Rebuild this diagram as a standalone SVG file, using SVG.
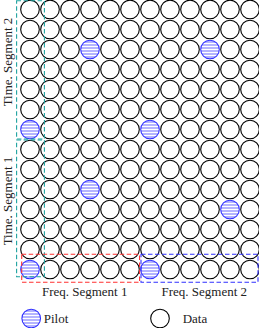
<svg xmlns="http://www.w3.org/2000/svg" xmlns:xlink="http://www.w3.org/1999/xlink" width="259" height="328" viewBox="0 0 259 328">
<style>
.d{fill:none;stroke:#000;stroke-width:1.1}
.p{fill:url(#hl);stroke:#3030ff;stroke-width:1.1}
.t{font-family:"Liberation Serif","Times New Roman",serif;font-size:13px;fill:#222}
.box{fill:none;stroke-width:1.1;stroke-dasharray:4.5 2.5}
</style>
<defs>
<pattern id="hl" patternUnits="userSpaceOnUse" x="0" y="0.5" width="4" height="3">
<rect width="4" height="3" fill="#fff"/>
<line x1="0" y1="1" x2="4" y2="1" stroke="#6a6aff" stroke-width="1"/>
</pattern>
<circle id="dc" class="d" r="9.3"/>
<circle id="pc" class="p" r="9.3"/>
</defs>
<rect width="259" height="328" fill="#fff"/>
<g id="grid">
<g id="r0"><use xlink:href="#dc" x="30" y="9.5"/><use xlink:href="#dc" x="50" y="9.5"/><use xlink:href="#dc" x="70" y="9.5"/><use xlink:href="#dc" x="90" y="9.5"/><use xlink:href="#dc" x="110" y="9.5"/><use xlink:href="#dc" x="130" y="9.5"/><use xlink:href="#dc" x="150" y="9.5"/><use xlink:href="#dc" x="170" y="9.5"/><use xlink:href="#dc" x="190" y="9.5"/><use xlink:href="#dc" x="210" y="9.5"/><use xlink:href="#dc" x="230" y="9.5"/><use xlink:href="#dc" x="250" y="9.5"/></g>
<g id="r1"><use xlink:href="#dc" x="30" y="29.5"/><use xlink:href="#dc" x="50" y="29.5"/><use xlink:href="#dc" x="70" y="29.5"/><use xlink:href="#dc" x="90" y="29.5"/><use xlink:href="#dc" x="110" y="29.5"/><use xlink:href="#dc" x="130" y="29.5"/><use xlink:href="#dc" x="150" y="29.5"/><use xlink:href="#dc" x="170" y="29.5"/><use xlink:href="#dc" x="190" y="29.5"/><use xlink:href="#dc" x="210" y="29.5"/><use xlink:href="#dc" x="230" y="29.5"/><use xlink:href="#dc" x="250" y="29.5"/></g>
<g id="r2"><use xlink:href="#dc" x="30" y="49.5"/><use xlink:href="#dc" x="50" y="49.5"/><use xlink:href="#dc" x="70" y="49.5"/><use id="pilot-r2c3" xlink:href="#pc" x="90" y="49.5"/><use xlink:href="#dc" x="110" y="49.5"/><use xlink:href="#dc" x="130" y="49.5"/><use xlink:href="#dc" x="150" y="49.5"/><use xlink:href="#dc" x="170" y="49.5"/><use xlink:href="#dc" x="190" y="49.5"/><use id="pilot-r2c9" xlink:href="#pc" x="210" y="49.5"/><use xlink:href="#dc" x="230" y="49.5"/><use xlink:href="#dc" x="250" y="49.5"/></g>
<g id="r3"><use xlink:href="#dc" x="30" y="69.5"/><use xlink:href="#dc" x="50" y="69.5"/><use xlink:href="#dc" x="70" y="69.5"/><use xlink:href="#dc" x="90" y="69.5"/><use xlink:href="#dc" x="110" y="69.5"/><use xlink:href="#dc" x="130" y="69.5"/><use xlink:href="#dc" x="150" y="69.5"/><use xlink:href="#dc" x="170" y="69.5"/><use xlink:href="#dc" x="190" y="69.5"/><use xlink:href="#dc" x="210" y="69.5"/><use xlink:href="#dc" x="230" y="69.5"/><use xlink:href="#dc" x="250" y="69.5"/></g>
<g id="r4"><use xlink:href="#dc" x="30" y="89.5"/><use xlink:href="#dc" x="50" y="89.5"/><use xlink:href="#dc" x="70" y="89.5"/><use xlink:href="#dc" x="90" y="89.5"/><use xlink:href="#dc" x="110" y="89.5"/><use xlink:href="#dc" x="130" y="89.5"/><use xlink:href="#dc" x="150" y="89.5"/><use xlink:href="#dc" x="170" y="89.5"/><use xlink:href="#dc" x="190" y="89.5"/><use xlink:href="#dc" x="210" y="89.5"/><use xlink:href="#dc" x="230" y="89.5"/><use xlink:href="#dc" x="250" y="89.5"/></g>
<g id="r5"><use xlink:href="#dc" x="30" y="109.5"/><use xlink:href="#dc" x="50" y="109.5"/><use xlink:href="#dc" x="70" y="109.5"/><use xlink:href="#dc" x="90" y="109.5"/><use xlink:href="#dc" x="110" y="109.5"/><use xlink:href="#dc" x="130" y="109.5"/><use xlink:href="#dc" x="150" y="109.5"/><use xlink:href="#dc" x="170" y="109.5"/><use xlink:href="#dc" x="190" y="109.5"/><use xlink:href="#dc" x="210" y="109.5"/><use xlink:href="#dc" x="230" y="109.5"/><use xlink:href="#dc" x="250" y="109.5"/></g>
<g id="r6"><use id="pilot-r6c0" xlink:href="#pc" x="30" y="129.5"/><use xlink:href="#dc" x="50" y="129.5"/><use xlink:href="#dc" x="70" y="129.5"/><use xlink:href="#dc" x="90" y="129.5"/><use xlink:href="#dc" x="110" y="129.5"/><use xlink:href="#dc" x="130" y="129.5"/><use id="pilot-r6c6" xlink:href="#pc" x="150" y="129.5"/><use xlink:href="#dc" x="170" y="129.5"/><use xlink:href="#dc" x="190" y="129.5"/><use xlink:href="#dc" x="210" y="129.5"/><use xlink:href="#dc" x="230" y="129.5"/><use xlink:href="#dc" x="250" y="129.5"/></g>
<g id="r7"><use xlink:href="#dc" x="30" y="149.5"/><use xlink:href="#dc" x="50" y="149.5"/><use xlink:href="#dc" x="70" y="149.5"/><use xlink:href="#dc" x="90" y="149.5"/><use xlink:href="#dc" x="110" y="149.5"/><use xlink:href="#dc" x="130" y="149.5"/><use xlink:href="#dc" x="150" y="149.5"/><use xlink:href="#dc" x="170" y="149.5"/><use xlink:href="#dc" x="190" y="149.5"/><use xlink:href="#dc" x="210" y="149.5"/><use xlink:href="#dc" x="230" y="149.5"/><use xlink:href="#dc" x="250" y="149.5"/></g>
<g id="r8"><use xlink:href="#dc" x="30" y="169.5"/><use xlink:href="#dc" x="50" y="169.5"/><use xlink:href="#dc" x="70" y="169.5"/><use xlink:href="#dc" x="90" y="169.5"/><use xlink:href="#dc" x="110" y="169.5"/><use xlink:href="#dc" x="130" y="169.5"/><use xlink:href="#dc" x="150" y="169.5"/><use xlink:href="#dc" x="170" y="169.5"/><use xlink:href="#dc" x="190" y="169.5"/><use xlink:href="#dc" x="210" y="169.5"/><use xlink:href="#dc" x="230" y="169.5"/><use xlink:href="#dc" x="250" y="169.5"/></g>
<g id="r9"><use xlink:href="#dc" x="30" y="189.5"/><use xlink:href="#dc" x="50" y="189.5"/><use xlink:href="#dc" x="70" y="189.5"/><use id="pilot-r9c3" xlink:href="#pc" x="90" y="189.5"/><use xlink:href="#dc" x="110" y="189.5"/><use xlink:href="#dc" x="130" y="189.5"/><use xlink:href="#dc" x="150" y="189.5"/><use xlink:href="#dc" x="170" y="189.5"/><use xlink:href="#dc" x="190" y="189.5"/><use xlink:href="#dc" x="210" y="189.5"/><use xlink:href="#dc" x="230" y="189.5"/><use xlink:href="#dc" x="250" y="189.5"/></g>
<g id="r10"><use xlink:href="#dc" x="30" y="209.5"/><use xlink:href="#dc" x="50" y="209.5"/><use xlink:href="#dc" x="70" y="209.5"/><use xlink:href="#dc" x="90" y="209.5"/><use xlink:href="#dc" x="110" y="209.5"/><use xlink:href="#dc" x="130" y="209.5"/><use xlink:href="#dc" x="150" y="209.5"/><use xlink:href="#dc" x="170" y="209.5"/><use xlink:href="#dc" x="190" y="209.5"/><use xlink:href="#dc" x="210" y="209.5"/><use id="pilot-r10c10" xlink:href="#pc" x="230" y="209.5"/><use xlink:href="#dc" x="250" y="209.5"/></g>
<g id="r11"><use xlink:href="#dc" x="30" y="229.5"/><use xlink:href="#dc" x="50" y="229.5"/><use xlink:href="#dc" x="70" y="229.5"/><use xlink:href="#dc" x="90" y="229.5"/><use xlink:href="#dc" x="110" y="229.5"/><use xlink:href="#dc" x="130" y="229.5"/><use xlink:href="#dc" x="150" y="229.5"/><use xlink:href="#dc" x="170" y="229.5"/><use xlink:href="#dc" x="190" y="229.5"/><use xlink:href="#dc" x="210" y="229.5"/><use xlink:href="#dc" x="230" y="229.5"/><use xlink:href="#dc" x="250" y="229.5"/></g>
<g id="r12"><use xlink:href="#dc" x="30" y="249.5"/><use xlink:href="#dc" x="50" y="249.5"/><use xlink:href="#dc" x="70" y="249.5"/><use xlink:href="#dc" x="90" y="249.5"/><use xlink:href="#dc" x="110" y="249.5"/><use xlink:href="#dc" x="130" y="249.5"/><use xlink:href="#dc" x="150" y="249.5"/><use xlink:href="#dc" x="170" y="249.5"/><use xlink:href="#dc" x="190" y="249.5"/><use xlink:href="#dc" x="210" y="249.5"/><use xlink:href="#dc" x="230" y="249.5"/><use xlink:href="#dc" x="250" y="249.5"/></g>
<g id="r13"><use id="pilot-r13c0" xlink:href="#pc" x="30" y="269.5"/><use xlink:href="#dc" x="50" y="269.5"/><use xlink:href="#dc" x="70" y="269.5"/><use xlink:href="#dc" x="90" y="269.5"/><use xlink:href="#dc" x="110" y="269.5"/><use xlink:href="#dc" x="130" y="269.5"/><use id="pilot-r13c6" xlink:href="#pc" x="150" y="269.5"/><use xlink:href="#dc" x="170" y="269.5"/><use xlink:href="#dc" x="190" y="269.5"/><use xlink:href="#dc" x="210" y="269.5"/><use xlink:href="#dc" x="230" y="269.5"/><use xlink:href="#dc" x="250" y="269.5"/></g>
</g>
<g id="segments">
<rect id="ts2-box" class="box" x="16.6" y="0.8" width="27.8" height="138.2" stroke="#1fa3a0"/>
<rect id="ts1-box" class="box" x="16.6" y="140" width="27.8" height="136.8" stroke="#1fa3a0"/>
<rect id="fs1-box" class="box" x="21.7" y="254.3" width="117.9" height="28" stroke="#ff3030"/>
<rect id="fs2-box" class="box" x="141" y="254.3" width="117" height="28" stroke="#3030ff"/>
</g>
<g id="labels">
<text class="t" text-anchor="middle" transform="translate(11.8,62) rotate(-90)">Time. Segment 2</text>
<text class="t" text-anchor="middle" transform="translate(11.8,201) rotate(-90)">Time. Segment 1</text>
<text class="t" x="84.7" y="296" text-anchor="middle">Freq. Segment 1</text>
<text class="t" x="204.3" y="296" text-anchor="middle">Freq. Segment 2</text>
</g>
<g id="legend">
<g id="legend-pilot"><use xlink:href="#pc" x="31.2" y="318.5"/><text class="t" x="43.7" y="323">Pilot</text></g>
<g id="legend-data"><use xlink:href="#dc" x="160" y="318.5"/><text class="t" x="182.7" y="323">Data</text></g>
</g>
</svg>
